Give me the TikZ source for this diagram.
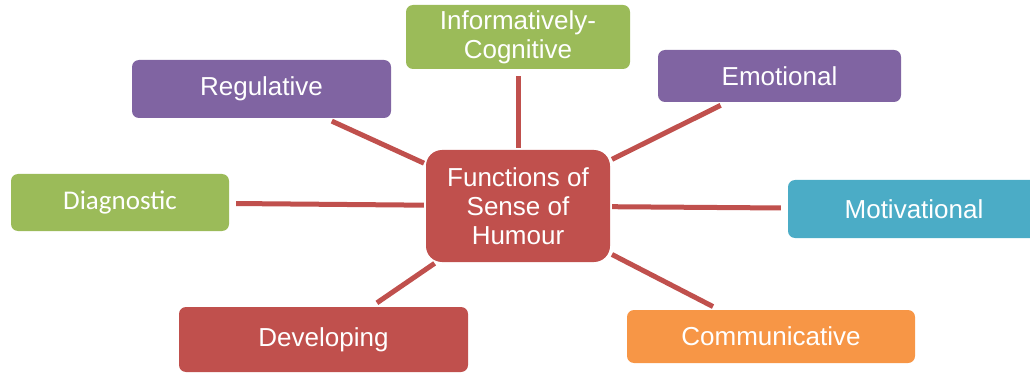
\documentclass[tikz,border=0pt]{standalone}
\usepackage{fontspec}
\setmainfont{Liberation Sans}
\newfontfamily\calib{Carlito}
\definecolor{cgreen}{HTML}{9BBB59}
\definecolor{cpurple}{HTML}{8064A2}
\definecolor{cred}{HTML}{C0504D}
\definecolor{cblue}{HTML}{4BACC6}
\definecolor{corange}{HTML}{F79646}
\tikzset{
  box/.style={rectangle, rounded corners=7pt, inner sep=0pt, text=white, align=center,
    font=\fontsize{26}{29}\selectfont},
  hub/.style={box, fill=cred, rounded corners=16pt},
  conn/.style={draw=cred, line width=5pt, shorten <=7pt, shorten >=2pt}
}
\begin{document}
\begin{tikzpicture}[x=1pt,y=1pt]
\useasboundingbox (0,0) rectangle (1030,-374);
\clip (0,0) rectangle (1030,-374);
\node[hub, minimum width=184pt, minimum height=112pt] (ctr) at (518,-206) {Functions of\\Sense of\\Humour};
\node[box, fill=cgreen, minimum width=224pt, minimum height=64pt] (info) at (518,-37) {Informatively-\\Cognitive};
\node[box, fill=cpurple, minimum width=259pt, minimum height=58pt] (reg) at (261.5,-89) {Regulative};
\node[box, fill=cpurple, minimum width=243pt, minimum height=52pt] (emo) at (779.5,-76) {Emotional};
\node[box, fill=cgreen, minimum width=218pt, minimum height=57pt, font=\calib\fontsize{27}{30}\selectfont] (diag) at (120,-202.5) {Diagnostic};
\node[box, fill=cblue, minimum width=256pt, minimum height=58pt] (mot) at (916,-209) {\hspace*{-4pt}Motivational};
\node[box, fill=cred, minimum width=289pt, minimum height=65pt] (dev) at (323.5,-339.5) {Developing};
\node[box, fill=corange, minimum width=288pt, minimum height=53pt] (com) at (771,-336.5) {Communicative};
\draw[conn] (info) -- (ctr);
\draw[conn] (reg) -- (ctr);
\draw[conn] (emo) -- (ctr);
\draw[conn] (diag) -- (ctr);
\draw[conn] (mot) -- (ctr);
\draw[conn] (dev) -- (ctr);
\draw[conn] (com) -- (ctr);
\end{tikzpicture}
\end{document}
